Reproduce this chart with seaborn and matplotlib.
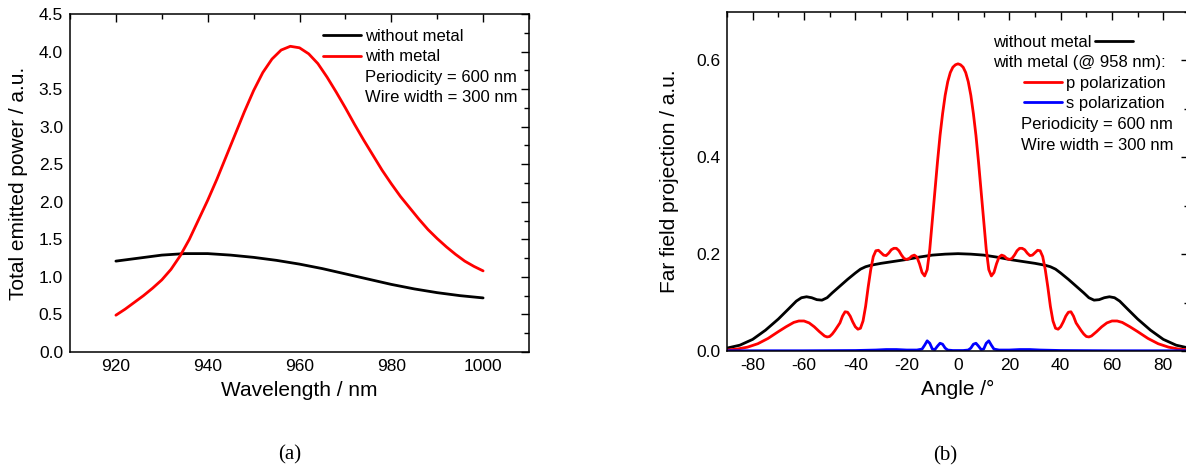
import matplotlib
matplotlib.use("Agg")
import matplotlib.pyplot as plt
import seaborn as sns
import pandas as pd
from matplotlib.ticker import MultipleLocator, FormatStrFormatter
from matplotlib.lines import Line2D

# ---------------- data: panel (a) ----------------
wavelength_nm = [920, 922, 924, 926, 928, 930, 932, 934, 936, 938, 940, 942, 944, 946, 948,
                 950, 952, 954, 956, 958, 960, 962, 964, 966, 968, 970, 972, 974, 976, 978,
                 980, 982, 984, 986, 988, 990, 992, 994, 996, 998, 1000]
power_with_metal = [0.49, 0.57, 0.66, 0.75, 0.85, 0.96, 1.10, 1.28, 1.50, 1.76, 2.02, 2.30, 2.60,
                    2.90, 3.20, 3.48, 3.72, 3.90, 4.02, 4.07, 4.05, 3.97, 3.84, 3.66, 3.46, 3.25,
                    3.03, 2.82, 2.62, 2.42, 2.24, 2.07, 1.92, 1.77, 1.63, 1.51, 1.40, 1.30, 1.21,
                    1.14, 1.08]
wavelength_nm_ref = [920, 925, 930, 935, 940, 945, 950, 955, 960, 965, 970, 975, 980, 985, 990, 995, 1000]
power_without_metal = [1.21, 1.25, 1.29, 1.31, 1.31, 1.29, 1.26, 1.22, 1.17, 1.11, 1.04, 0.97,
                       0.90, 0.84, 0.79, 0.75, 0.72]

# ---------------- data: panel (b) ----------------
angle_p = [-90, -86, -82, -78, -74, -70, -67, -64, -62, -60, -58, -56, -54, -52, -51, -50, -49,
           -48, -47, -46, -45, -44, -43, -42, -41, -40, -39, -38, -37, -36, -35, -34, -33, -32,
           -31, -30, -29, -28, -27, -26, -25, -24, -23, -22, -21, -20, -19, -18, -17, -16, -15,
           -14, -13, -12, -11, -10, -9, -8, -7, -6, -5, -4, -3, -2, -1, 0,
           1, 2, 3, 4, 5, 6, 7, 8, 9, 10, 11, 12, 13, 14, 15, 16, 17, 18, 19, 20, 21, 22, 23, 24,
           25, 26, 27, 28, 29, 30, 31, 32, 33, 34, 35, 36, 37, 38, 39, 40, 41, 42, 43, 44, 45, 46,
           47, 48, 49, 50, 51, 52, 54, 56, 58, 60, 62, 64, 67, 70, 74, 78, 82, 86, 90]
far_p = [0.002, 0.004, 0.008, 0.015, 0.026, 0.040, 0.050, 0.059, 0.062, 0.062, 0.058, 0.050,
         0.040, 0.031, 0.029, 0.030, 0.035, 0.042, 0.050, 0.058, 0.072, 0.081, 0.080, 0.072,
         0.060, 0.050, 0.045, 0.047, 0.062, 0.092, 0.132, 0.168, 0.195, 0.207, 0.208, 0.203,
         0.198, 0.197, 0.202, 0.209, 0.212, 0.212, 0.207, 0.198, 0.191, 0.189, 0.191, 0.196,
         0.198, 0.194, 0.180, 0.162, 0.155, 0.168, 0.210, 0.270, 0.330, 0.390, 0.445, 0.490,
         0.528, 0.556, 0.575, 0.586, 0.591, 0.593,
         0.591, 0.586, 0.575, 0.556, 0.528, 0.490, 0.445, 0.390, 0.330, 0.270, 0.210, 0.168,
         0.155, 0.162, 0.180, 0.194, 0.198, 0.196, 0.191, 0.189, 0.191, 0.198, 0.207, 0.212,
         0.212, 0.209, 0.202, 0.197, 0.198, 0.203, 0.208, 0.207, 0.195, 0.168, 0.132, 0.092,
         0.062, 0.047, 0.045, 0.050, 0.060, 0.072, 0.080, 0.081, 0.072, 0.058, 0.050, 0.042,
         0.035, 0.030, 0.029, 0.031, 0.040, 0.050, 0.058, 0.062, 0.062, 0.059, 0.050, 0.040,
         0.026, 0.015, 0.008, 0.004, 0.002]

angle_0 = [-90, -85, -80, -75, -70, -66, -63, -61, -59, -57, -55, -53, -51, -49, -46, -43, -40,
           -38, -36, -34, -30, -25, -20, -15, -10, -5, 0,
           5, 10, 15, 20, 25, 30, 34, 36, 38, 40, 43, 46, 49, 51, 53, 55, 57, 59, 61, 63, 66,
           70, 75, 80, 85, 90]
far_0 = [0.006, 0.012, 0.024, 0.043, 0.066, 0.087, 0.103, 0.110, 0.112, 0.110, 0.106, 0.105,
         0.110, 0.120, 0.134, 0.148, 0.161, 0.169, 0.174, 0.177, 0.181, 0.185, 0.189, 0.194,
         0.198, 0.200, 0.201,
         0.200, 0.198, 0.194, 0.189, 0.185, 0.181, 0.177, 0.174, 0.169, 0.161, 0.148, 0.134,
         0.120, 0.110, 0.105, 0.106, 0.110, 0.112, 0.110, 0.103, 0.087, 0.066, 0.043, 0.024,
         0.012, 0.006]

angle_s = [-90, -60, -40, -32, -28, -24, -20, -16, -14, -13, -12, -11, -10, -9, -8, -7, -6, -5,
           -4, -2, 0, 2, 4, 5, 6, 7, 8, 9, 10, 11, 12, 13, 14, 16, 20, 24, 28, 32, 40, 60, 90]
far_s = [0.0005, 0.0005, 0.001, 0.002, 0.003, 0.003, 0.002, 0.002, 0.004, 0.012, 0.021, 0.016,
         0.004, 0.003, 0.010, 0.016, 0.014, 0.006, 0.002, 0.001, 0.001, 0.001, 0.002, 0.006,
         0.014, 0.016, 0.010, 0.003, 0.004, 0.016, 0.021, 0.012, 0.004, 0.002, 0.002, 0.003,
         0.003, 0.002, 0.001, 0.0005, 0.0005]

# ---------------- style ----------------
sns.set_theme(style="white")
plt.rcParams['font.family'] = ['Liberation Sans', 'DejaVu Sans']
plt.rcParams['axes.linewidth'] = 1.1
plt.rcParams['axes.edgecolor'] = 'black'
plt.rcParams['axes.unicode_minus'] = False
plt.rcParams['text.color'] = 'black'
plt.rcParams['axes.labelcolor'] = 'black'
plt.rcParams['xtick.color'] = 'black'
plt.rcParams['ytick.color'] = 'black'

W, H = 1186, 470
fig = plt.figure(figsize=(W / 100, H / 100), dpi=100)

def px_axes(x0, x1, y0, y1):
    return fig.add_axes([x0 / W, 1 - y1 / H, (x1 - x0) / W, (y1 - y0) / H])

axa = px_axes(70, 529, 14, 352)
axb = px_axes(727, 1189, 12, 351)

LW = 2.0
TICK_FS = 12.5
LAB_FS = 15
LEG_FS = 12

def style_axes(ax):
    for s in ax.spines.values():
        s.set_color('black')
        s.set_linewidth(1.1)
    ax.tick_params(which='both', direction='in', top=True, right=True, colors='black',
                   labelsize=TICK_FS, width=1.0)
    ax.tick_params(which='major', length=6, pad=5)
    ax.tick_params(which='minor', length=3.5)
    ax.grid(False)

# ---------------- panel (a) ----------------
da1 = pd.DataFrame({'wl': wavelength_nm_ref, 'p': power_without_metal})
da2 = pd.DataFrame({'wl': wavelength_nm, 'p': power_with_metal})
sns.lineplot(data=da1, x='wl', y='p', ax=axa, color='black', lw=LW, sort=False)
sns.lineplot(data=da2, x='wl', y='p', ax=axa, color='#ff0000', lw=LW, sort=False)
axa.set_xlim(910, 1010)
axa.set_ylim(0, 4.5)
axa.xaxis.set_major_locator(MultipleLocator(20))
axa.xaxis.set_minor_locator(MultipleLocator(10))
axa.yaxis.set_major_locator(MultipleLocator(0.5))
axa.yaxis.set_minor_locator(MultipleLocator(0.25))
axa.yaxis.set_major_formatter(FormatStrFormatter('%.1f'))
style_axes(axa)
axa.set_xlabel('Wavelength / nm', fontsize=LAB_FS, labelpad=5, color='black')
axa.set_ylabel('Total emitted power / a.u.', fontsize=LAB_FS, labelpad=8, color='black')

handles_a = [Line2D([], [], color='black', lw=LW), Line2D([], [], color='#ff0000', lw=LW),
             Line2D([], [], color='none'), Line2D([], [], color='none')]
labels_a = ['without metal', 'with metal', 'Periodicity = 600 nm', 'Wire width = 300 nm']
axa.legend(handles_a, labels_a, loc='upper left', bbox_to_anchor=((323 - 70) / 459, (352 - 29) / 338),
           frameon=False, fontsize=LEG_FS, handlelength=2.3, handletextpad=0.2,
           labelspacing=0.33, borderpad=0, borderaxespad=0, labelcolor='black')

# ---------------- panel (b) ----------------
db0 = pd.DataFrame({'a': angle_0, 'v': far_0})
dbp = pd.DataFrame({'a': angle_p, 'v': far_p})
dbs = pd.DataFrame({'a': angle_s, 'v': far_s})
sns.lineplot(data=db0, x='a', y='v', ax=axb, color='black', lw=LW, sort=False)
sns.lineplot(data=dbp, x='a', y='v', ax=axb, color='#ff0000', lw=LW, sort=False)
sns.lineplot(data=dbs, x='a', y='v', ax=axb, color='#0000ff', lw=LW, sort=False)
axb.set_xlim(-90, 90)
axb.set_ylim(0, 0.7)
axb.xaxis.set_major_locator(MultipleLocator(20))
axb.xaxis.set_minor_locator(MultipleLocator(10))
axb.yaxis.set_major_locator(MultipleLocator(0.2))
axb.yaxis.set_minor_locator(MultipleLocator(0.1))
axb.yaxis.set_major_formatter(FormatStrFormatter('%.1f'))
style_axes(axb)
axb.set_xlabel('Angle /°', fontsize=LAB_FS, labelpad=5, color='black')
axb.set_ylabel('Far field projection / a.u.', fontsize=LAB_FS, labelpad=12, color='black')

bw, bh = 462, 339
def bx(px):
    return (px - 727) / bw
def by(py):
    return (351 - py) / bh

leg1 = axb.legend([Line2D([], [], color='black', lw=LW)], ['without metal'], loc='upper left',
                  bbox_to_anchor=(bx(993), by(35)), frameon=False, fontsize=LEG_FS,
                  handlelength=2.3, handletextpad=0.2, borderpad=0, borderaxespad=0,
                  markerfirst=False, labelcolor='black')
axb.add_artist(leg1)
axb.text(bx(993), by(63), 'with metal (@ 958 nm):', transform=axb.transAxes,
         fontsize=LEG_FS, va='center', ha='left', color='black')
axb.legend([Line2D([], [], color='#ff0000', lw=LW), Line2D([], [], color='#0000ff', lw=LW)],
           ['p polarization', 's polarization'], loc='upper left',
           bbox_to_anchor=(bx(1024), by(76)), frameon=False, fontsize=LEG_FS,
           handlelength=2.3, handletextpad=0.2, labelspacing=0.3, borderpad=0, borderaxespad=0,
           labelcolor='black')
axb.text(bx(1021), by(124), 'Periodicity = 600 nm', transform=axb.transAxes,
         fontsize=LEG_FS, va='center', ha='left', color='black')
axb.text(bx(1021), by(145), 'Wire width = 300 nm', transform=axb.transAxes,
         fontsize=LEG_FS, va='center', ha='left', color='black')

# ---------------- panel captions ----------------
fig.text(290 / W, 1 - 455 / H, '(a)', family=['Liberation Serif', 'DejaVu Serif'],
         fontsize=15, ha='center', va='center', color='black')
fig.text(945 / W, 1 - 456 / H, '(b)', family=['Liberation Serif', 'DejaVu Serif'],
         fontsize=15, ha='center', va='center', color='black')

fig.savefig('out.png', dpi=100, facecolor='white')
